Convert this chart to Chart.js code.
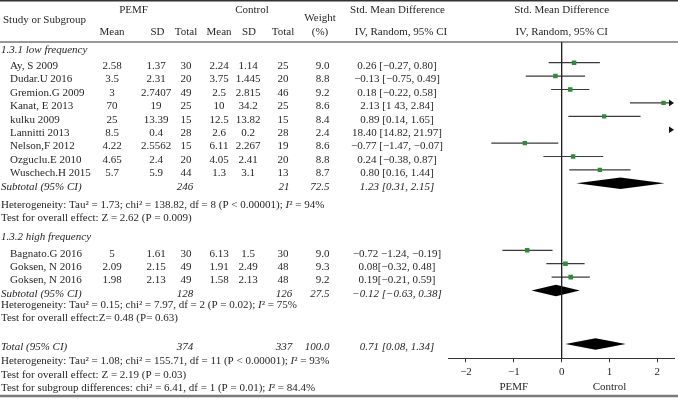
<!DOCTYPE html>
<html><head><meta charset="utf-8">
<script src="https://cdn.jsdelivr.net/npm/chart.js@4/dist/chart.umd.min.js"></script>
<style>html,body{margin:0;padding:0;background:#fff;overflow:hidden}#wrap{position:relative;width:678px;height:399px}</style>
</head><body><div id="wrap"><canvas id="c" width="678" height="399"></canvas></div>
<script>
// ---------------- DATA ----------------
const group1Label = "1.3.1 low frequency";
const names1 = ["Ay, S 2009","Dudar.U 2016","Gremion.G 2009","Kanat, E 2013","kulku 2009","Lannitti 2013","Nelson,F 2012","Ozguclu.E 2010","Wuschech.H 2015"];
const pemfMean1 = [2.58,3.5,3,70,25,8.5,4.22,4.65,5.7];
const pemfSd1   = [1.37,2.31,2.7407,19,13.39,0.4,2.5562,2.4,5.9];
const pemfN1    = [30,20,49,25,15,28,15,20,44];
const ctlMean1  = [2.24,3.75,2.5,10,12.5,2.6,6.11,4.05,1.3];
const ctlSd1    = [1.14,1.445,2.815,34.2,13.82,0.2,2.267,2.41,3.1];
const ctlN1     = [25,20,46,25,15,28,19,20,13];
const weight1   = [9.0,8.8,9.2,8.6,8.4,2.4,8.6,8.8,8.7];
const smd1      = [0.26,-0.13,0.18,2.13,0.89,18.40,-0.77,0.24,0.80];
const lo1       = [-0.27,-0.75,-0.22,1.43,0.14,14.82,-1.47,-0.38,0.16];
const hi1       = [0.80,0.49,0.58,2.84,1.65,21.97,-0.07,0.87,1.44];
const ciLabel1  = ["0.26 [\u22120.27, 0.80]","\u22120.13 [\u22120.75, 0.49]","0.18 [\u22120.22, 0.58]","2.13 [1 43, 2.84]","0.89 [0.14, 1.65]","18.40 [14.82, 21.97]","\u22120.77 [\u22121.47, \u22120.07]","0.24 [\u22120.38, 0.87]","0.80 [0.16, 1.44]"];
const sub1      = {pemfN:"246", ctlN:"21", weight:"72.5", est:1.23, lo:0.31, hi:2.15, label:"1.23 [0.31, 2.15]"};
const het1      = [["Heterogeneity: Tau\u00B2 = 1.73; chi\u00B2 = 138.82, df = 8 (P < 0.00001); ",0],["I",1],["\u00B2 = 94%",0]];
const test1     = [["Test for overall effect: Z = 2.62 (P = 0.009)",0]];

const group2Label = "1.3.2 high frequency";
const names2 = ["Bagnato.G 2016","Goksen, N 2016","Goksen, N 2016"];
const pemfMean2 = [5,2.09,1.98];
const pemfSd2   = [1.61,2.15,2.13];
const pemfN2    = [30,49,49];
const ctlMean2  = [6.13,1.91,1.58];
const ctlSd2    = [1.5,2.49,2.13];
const ctlN2     = [30,48,48];
const weight2   = [9.0,9.3,9.2];
const smd2      = [-0.72,0.08,0.19];
const lo2       = [-1.24,-0.32,-0.21];
const hi2       = [-0.19,0.48,0.59];
const ciLabel2  = ["\u22120.72 \u22121.24, \u22120.19]","0.08[\u22120.32, 0.48]","0.19[\u22120.21, 0.59]"];
const sub2      = {pemfN:"128", ctlN:"126", weight:"27.5", est:-0.12, lo:-0.63, hi:0.38, label:"\u22120.12 [\u22120.63, 0.38]"};
const het2      = [["Heterogeneity: Tau\u00B2 = 0.15; chi\u00B2 = 7.97, df = 2 (P = 0.02); ",0],["I",1],["\u00B2 = 75%",0]];
const test2     = [["Test for overall effect:Z= 0.48 (P= 0.63)",0]];

const total     = {pemfN:"374", ctlN:"337", weight:"100.0", est:0.71, lo:0.08, hi:1.34, label:"0.71 [0.08, 1.34]"};
const het3      = [["Heterogeneity: Tau\u00B2 = 1.08; chi\u00B2 = 155.71, df = 11 (P < 0.00001); ",0],["I",1],["\u00B2 = 93%",0]];
const test3     = [["Test for overall effect: Z = 2.19 (P = 0.03)",0]];
const test4     = [["Test for subgroup differences: chi\u00B2 = 6.41, df = 1 (P = 0.01); ",0],["I",1],["\u00B2 = 84.4%",0]];

const xTicks = [-2,-1,0,1,2];
const favourLabels = ["PEMF","Control"];   // placed under x = -1 and x = +1
const favourAt = [-1, 1];

// ---------------- LAYOUT ----------------
const W = 678, H = 399;
const X_MIN = -2.37, X_MAX = 2.35;
const ROW0_PX = 62.7, ROW_PX = 13.4, AREA_TOP = 42, AREA_BOTTOM = 358.3;
const Y_MIN = (AREA_TOP - ROW0_PX) / ROW_PX, Y_MAX = (AREA_BOTTOM - ROW0_PX) / ROW_PX;
const rows1 = [0,1,2,3,4,5,6,7,8], subRow1 = 9;
const rows2 = [14,15,16], subRow2 = 17, totalRow = 21;
const grp1Row = -1.21, het1Row = 10.4, test1Row = 11.37, grp2Row = 12.75;
const het2Row = 17.82, test2Row = 18.83, het3Row = 22.04, test3Row = 23.04, test4Row = 24.04;
const TEXT_DY = 3.5;
const col = {name:10, grp:1, pemfMean:112, pemfSd:156, pemfN:186, ctlMean:219, ctlSd:248, ctlN:283, weightR:329.5, ci:397};
const FONT = '"Liberation Serif", "Times New Roman", serif';
const FS = 11;
const TXT = '#262626';
const GREEN = '#2f8a3a';
const CI_COLOR = '#3a3a3a';
const DIAMOND_H = 0.43;   // half height in row units
const fmt = v => String(v).replace('-', '\u2212');

function font(it){ return (it ? 'italic ' : '') + FS + 'px ' + FONT; }
function txt(ctx, s, px, py, align, it){ ctx.font = font(it); ctx.textAlign = align; ctx.fillText(s, px, py); }
function rich(ctx, segs, px, py){ let cx = px; ctx.textAlign = 'left'; segs.forEach(([s, it]) => { ctx.font = font(it); ctx.fillText(s, cx, py); cx += ctx.measureText(s).width; }); }

const squares = [];
smd1.forEach((v,i) => squares.push({x:v, y:rows1[i], w:weight1[i]}));
smd2.forEach((v,i) => squares.push({x:v, y:rows2[i], w:weight2[i]}));
const sqRadius = squares.map(p => (1.5 * Math.sqrt(p.w)) / 1.414);

const forestPlugin = {
  id: 'forest',
  beforeDatasetsDraw(chart){
    const {ctx, scales:{x, y}, chartArea:a} = chart;
    ctx.save();
    ctx.strokeStyle = CI_COLOR; ctx.fillStyle = '#111'; ctx.lineWidth = 1.2;
    const AL = 5, AH = 3.3;
    function ci(lo, hi, row){
      const py = y.getPixelForValue(row);
      const arrowR = () => { ctx.beginPath(); ctx.moveTo(a.right, py); ctx.lineTo(a.right - AL, py - AH); ctx.lineTo(a.right - AL, py + AH); ctx.closePath(); ctx.fill(); };
      const arrowL = () => { ctx.beginPath(); ctx.moveTo(a.left, py); ctx.lineTo(a.left + AL, py - AH); ctx.lineTo(a.left + AL, py + AH); ctx.closePath(); ctx.fill(); };
      if (lo > x.max) { arrowR(); return; }
      if (hi < x.min) { arrowL(); return; }
      let x1 = x.getPixelForValue(Math.max(lo, x.min)), x2 = x.getPixelForValue(Math.min(hi, x.max));
      if (hi > x.max) x2 = a.right - AL;
      if (lo < x.min) x1 = a.left + AL;
      ctx.beginPath(); ctx.moveTo(x1, py); ctx.lineTo(x2, py); ctx.stroke();
      if (hi > x.max) arrowR();
      if (lo < x.min) arrowL();
    }
    lo1.forEach((l,i) => ci(l, hi1[i], rows1[i]));
    lo2.forEach((l,i) => ci(l, hi2[i], rows2[i]));
    // diamonds
    function diamond(s, row){
      ctx.beginPath();
      ctx.moveTo(x.getPixelForValue(s.lo), y.getPixelForValue(row));
      ctx.lineTo(x.getPixelForValue(s.est), y.getPixelForValue(row - DIAMOND_H));
      ctx.lineTo(x.getPixelForValue(s.hi), y.getPixelForValue(row));
      ctx.lineTo(x.getPixelForValue(s.est), y.getPixelForValue(row + DIAMOND_H));
      ctx.closePath(); ctx.fillStyle = '#000'; ctx.fill();
    }
    diamond(sub1, subRow1); diamond(sub2, subRow2); diamond(total, totalRow);
    ctx.restore();
  },
  afterDraw(chart){
    const {ctx, scales:{x, y}} = chart;
    const ty = r => y.getPixelForValue(r) + TEXT_DY;
    ctx.save();
    ctx.fillStyle = TXT; ctx.textBaseline = 'middle';
    // rules
    ctx.strokeStyle = '#333'; ctx.lineWidth = 1.5;
    ctx.beginPath(); ctx.moveTo(0, 0.75); ctx.lineTo(W, 0.75); ctx.stroke();
    ctx.lineWidth = 1.2;
    ctx.beginPath(); ctx.moveTo(0, AREA_TOP); ctx.lineTo(W, AREA_TOP); ctx.stroke();
    ctx.strokeStyle = '#7a7a7a'; ctx.lineWidth = 2.5;
    ctx.beginPath(); ctx.moveTo(0, 396); ctx.lineTo(W, 396); ctx.stroke();
    // header
    txt(ctx, 'Study or Subgroup', 3, 20, 'left');
    txt(ctx, 'PEMF', 133.5, 10, 'center');
    txt(ctx, 'Control', 252, 10, 'center');
    txt(ctx, 'Weight', 320, 18.5, 'center');
    txt(ctx, '(%)', 320, 32, 'center');
    txt(ctx, 'Mean', col.pemfMean, 32, 'center');
    txt(ctx, 'SD', 157.5, 32, 'center');
    txt(ctx, 'Total', col.pemfN, 32, 'center');
    txt(ctx, 'Mean', col.ctlMean, 32, 'center');
    txt(ctx, 'SD', 249, 32, 'center');
    txt(ctx, 'Total', col.ctlN, 32, 'center');
    txt(ctx, 'Std. Mean Difference', 397.5, 10, 'center');
    txt(ctx, 'IV, Random, 95% CI', 401, 32, 'center');
    const zx = x.getPixelForValue(0);
    txt(ctx, 'Std. Mean Difference', zx, 10, 'center');
    txt(ctx, 'IV, Random, 95% CI', zx, 32, 'center');
    // study rows
    function studyRows(names, pm, ps, pn, cm, cs, cn, wt, lab, rows){
      names.forEach((n, i) => {
        const yy = ty(rows[i]);
        txt(ctx, n, col.name, yy, 'left');
        txt(ctx, String(pm[i]), col.pemfMean, yy, 'center');
        txt(ctx, String(ps[i]), col.pemfSd, yy, 'center');
        txt(ctx, String(pn[i]), col.pemfN, yy, 'center');
        txt(ctx, String(cm[i]), col.ctlMean, yy, 'center');
        txt(ctx, String(cs[i]), col.ctlSd, yy, 'center');
        txt(ctx, String(cn[i]), col.ctlN, yy, 'center');
        txt(ctx, wt[i].toFixed(1), col.weightR, yy, 'right');
        txt(ctx, lab[i], col.ci, yy, 'center');
      });
    }
    function subRow(label, s, row){
      const yy = ty(row);
      txt(ctx, label, col.grp, yy, 'left', 1);
      txt(ctx, s.pemfN, col.pemfN - 1, yy, 'center', 1);
      txt(ctx, s.ctlN, col.ctlN + 1, yy, 'center', 1);
      txt(ctx, s.weight, col.weightR, yy, 'right', 1);
      txt(ctx, s.label, col.ci, yy, 'center', 1);
    }
    txt(ctx, group1Label, col.grp, ty(grp1Row), 'left', 1);
    studyRows(names1, pemfMean1, pemfSd1, pemfN1, ctlMean1, ctlSd1, ctlN1, weight1, ciLabel1, rows1);
    subRow('Subtotal (95% CI)', sub1, subRow1);
    rich(ctx, het1, col.grp, ty(het1Row));
    rich(ctx, test1, col.grp, ty(test1Row));
    txt(ctx, group2Label, col.grp, ty(grp2Row), 'left', 1);
    studyRows(names2, pemfMean2, pemfSd2, pemfN2, ctlMean2, ctlSd2, ctlN2, weight2, ciLabel2, rows2);
    subRow('Subtotal (95% CI)', sub2, subRow2);
    rich(ctx, het2, col.grp, ty(het2Row));
    rich(ctx, test2, col.grp, ty(test2Row));
    subRow('Total (95% CI)', total, totalRow);
    rich(ctx, het3, col.grp, ty(het3Row));
    rich(ctx, test3, col.grp, ty(test3Row));
    rich(ctx, test4, col.grp, ty(test4Row));
    // favours labels
    favourLabels.forEach((l, i) => txt(ctx, l, x.getPixelForValue(favourAt[i]), 387.5, 'center'));
    ctx.restore();
  }
};

new Chart(document.getElementById('c'), {
  type: 'scatter',
  data: {
    datasets: [
      { type:'line', data:[{x:0, y:Y_MIN}, {x:0, y:Y_MAX}], borderColor:'#222', borderWidth:1, pointRadius:0, fill:false, clip:false },
      { type:'scatter', data: squares.map(p => ({x:p.x, y:p.y})), pointStyle:'rect', pointRadius: sqRadius,
        backgroundColor: GREEN, borderWidth:0, clip:0 }
    ]
  },
  options: {
    responsive:false, animation:false, devicePixelRatio:1, events:[],
    layout:{ padding:{ left:448.3, right:W - 676.7, top:AREA_TOP, bottom:0 } },
    plugins:{ legend:{display:false}, tooltip:{enabled:false} },
    scales:{
      x:{ type:'linear', min:X_MIN, max:X_MAX,
          afterBuildTicks: s => { s.ticks = xTicks.map(v => ({value:v})); },
          afterFit: s => { s.height = H - AREA_BOTTOM; },
          ticks:{ callback: v => fmt(v), font:{family:FONT, size:FS}, color:TXT, padding:3, maxRotation:0, autoSkip:false },
          grid:{ drawOnChartArea:false, drawTicks:true, tickLength:4, color:'#333', lineWidth:1 },
          border:{ display:true, color:'#333', width:1 } },
      y:{ type:'linear', display:false, min:Y_MIN, max:Y_MAX, reverse:true }
    }
  },
  plugins:[forestPlugin]
});
</script></body></html>
